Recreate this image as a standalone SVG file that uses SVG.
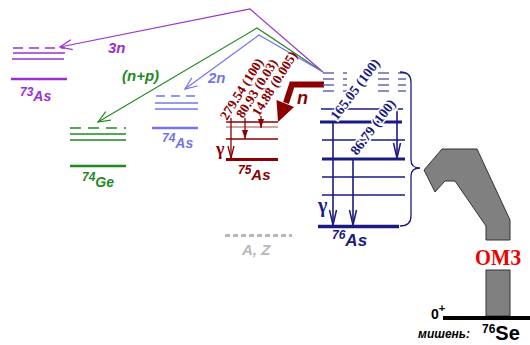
<svg xmlns="http://www.w3.org/2000/svg" width="530" height="345" viewBox="0 0 530 345">
<defs>
<style>
.sans{font-family:"Liberation Sans",Arial,sans-serif;font-weight:bold;font-style:italic}
.ser{font-family:"Liberation Serif","Times New Roman",serif;font-weight:bold}
.pu{stroke:#9b30d0;fill:none}
.gr{stroke:#1f8a1f;fill:none}
.lb{stroke:#7474f0;fill:none}
.dr{stroke:#8b0000;fill:none}
.nv{stroke:#1a1a80;fill:none}
.nvd{stroke:#6868a8;fill:none;stroke-width:1.5}
.thin{stroke-width:1.3}
.thick{stroke-width:3}
</style>
<marker id="mPu" markerUnits="userSpaceOnUse" markerWidth="16" markerHeight="12" viewBox="-1 -6 16 12" refX="12" refY="0" orient="auto"><path d="M0,-5 L12,0 L0,5" fill="none" stroke="#9b30d0" stroke-width="1.2"/></marker>
<marker id="mGr" markerUnits="userSpaceOnUse" markerWidth="16" markerHeight="12" viewBox="-1 -6 16 12" refX="12" refY="0" orient="auto"><path d="M0,-5 L12,0 L0,5" fill="none" stroke="#1f8a1f" stroke-width="1.2"/></marker>
<marker id="mLb" markerUnits="userSpaceOnUse" markerWidth="16" markerHeight="12" viewBox="-1 -6 16 12" refX="12" refY="0" orient="auto"><path d="M0,-5 L12,0 L0,5" fill="none" stroke="#7474f0" stroke-width="1.2"/></marker>
<marker id="mNv" markerUnits="userSpaceOnUse" markerWidth="18" markerHeight="10" viewBox="-1 -5 18 10" refX="15" refY="0" orient="auto"><path d="M0,-3.5 L15,0 L0,3.5" fill="none" stroke="#1a1a80" stroke-width="1.5"/></marker>
<marker id="mDrV" markerUnits="userSpaceOnUse" markerWidth="14" markerHeight="8" viewBox="-1 -4 14 8" refX="12" refY="0" orient="auto"><path d="M0,-3 L12,0 L0,3" fill="none" stroke="#8b0000" stroke-width="1.3"/></marker>
<marker id="mDrF" markerUnits="userSpaceOnUse" markerWidth="10" markerHeight="8" viewBox="0 -4 10 8" refX="9" refY="0" orient="auto"><path d="M0,-3 L9,0 L0,3 Z" fill="#8b0000"/></marker>
</defs>
<rect width="530" height="345" fill="#fff"/>

<g id="connectors">
<polyline class="pu" stroke-width="1.2" points="323,72 250,9 60,47" marker-end="url(#mPu)"/>
<polyline class="gr" stroke-width="1.2" points="323,72 257,28 98,122" marker-end="url(#mGr)"/>
<polyline class="lb" stroke-width="1.2" points="323,72 259,35 185,89" marker-end="url(#mLb)"/>
<text class="sans" x="108" y="53" font-size="15" fill="#9b30d0">3n</text>
<text class="sans" x="122" y="81" font-size="15" fill="#1f8a1f">(n+p)</text>
<text class="sans" x="208" y="83" font-size="15" fill="#7474f0">2n</text>
<g id="n-arrow">
<path d="M324,84.5 H292 L286,103" fill="none" stroke="#8b0000" stroke-width="6" stroke-linejoin="miter"/>
<polygon points="278,122 276.5,100 294,107" fill="#8b0000"/>
<text class="sans" x="297" y="104" font-size="18" fill="#8b0000">n</text>
</g>
</g>

<g id="As73">
<line class="pu" stroke-width="1.3" x1="13" y1="48" x2="65" y2="48" stroke-dasharray="10,6"/>
<line class="pu" stroke-width="1.3" x1="13" y1="53" x2="65" y2="53"/>
<line class="pu" stroke-width="1.3" x1="12" y1="59" x2="64" y2="59"/>
<line class="pu" stroke-width="2.5" x1="11" y1="79" x2="67" y2="79"/>
<text class="sans" fill="#9b30d0"><tspan x="20" y="96" font-size="12">73</tspan><tspan y="101" font-size="14">As</tspan></text>
</g>

<g id="Ge74">
<line class="gr" stroke-width="1.3" x1="70" y1="128" x2="126" y2="128" stroke-dasharray="11,7"/>
<line class="gr" stroke-width="1.3" x1="70" y1="134" x2="126" y2="134"/>
<line class="gr" stroke-width="1.3" x1="70" y1="140" x2="126" y2="140"/>
<line class="gr" stroke-width="2.5" x1="70" y1="166" x2="126" y2="166"/>
<text class="sans" fill="#1f8a1f"><tspan x="82" y="181" font-size="12">74</tspan><tspan y="187" font-size="14">Ge</tspan></text>
</g>

<g id="As74">
<line class="lb" stroke-width="1.3" x1="156" y1="96" x2="200" y2="96" stroke-dasharray="9,6"/>
<line class="lb" stroke-width="1.3" x1="155" y1="103" x2="198" y2="103"/>
<line class="lb" stroke-width="1.3" x1="155" y1="109" x2="198" y2="109"/>
<line class="lb" stroke-width="2.5" x1="152" y1="128" x2="198" y2="128"/>
<text class="sans" fill="#7474f0"><tspan x="162" y="142" font-size="12">74</tspan><tspan y="148" font-size="14">As</tspan></text>
</g>

<g id="As75">
<line class="dr" stroke-width="1.3" x1="226" y1="122" x2="278" y2="122"/>
<line stroke="#c48888" stroke-width="1.3" x1="226" y1="127" x2="278" y2="127"/>
<line class="dr" stroke-width="1.3" x1="226" y1="139" x2="278" y2="139"/>
<line class="dr" stroke-width="3" x1="226" y1="159.5" x2="278" y2="159.5"/>
<line class="dr" stroke-width="1.3" x1="231" y1="118" x2="231" y2="158" marker-end="url(#mDrV)"/>
<line class="dr" stroke-width="1.3" x1="245" y1="118" x2="245" y2="139" marker-end="url(#mDrF)"/>
<line class="dr" stroke-width="1.3" x1="261" y1="116" x2="261" y2="128" marker-end="url(#mDrF)"/>
<text class="ser" font-weight="normal" x="216" y="155" font-size="18" fill="#8b0000">γ</text>
<g class="ser" font-size="13.5" fill="#8b0000">
<text transform="translate(227,121) rotate(-58)">279.54 (100)</text>
<text transform="translate(243,119) rotate(-58)">80.93 (0.03)</text>
<text transform="translate(259,117) rotate(-58)">14.88 (0.005)</text>
</g>
<text class="sans" fill="#8b0000"><tspan x="238" y="174" font-size="12">75</tspan><tspan y="180" font-size="15">As</tspan></text>
</g>

<g id="As76">
<g class="nvd">
<path d="M323,73 h11 M343,73 h4 M378,73 h11 M398,73 h8"/>
<path d="M323,79 h11 M343,79 h4 M378,79 h11 M398,79 h8"/>
<path d="M323,85 h11 M343,85 h4 M378,85 h11 M398,85 h8"/>
<path d="M323,91 h11 M343,91 h4 M378,91 h11 M398,91 h8"/>
</g>
<line class="nv thin" x1="321" y1="109" x2="403" y2="109"/>
<line class="nv thick" x1="320" y1="122" x2="402" y2="122"/>
<line class="nv thin" x1="322" y1="140" x2="405" y2="140"/>
<line class="nv thick" x1="322" y1="159" x2="405" y2="159"/>
<line class="nv thin" x1="322" y1="177" x2="405" y2="177"/>
<line class="nv thin" x1="322" y1="195" x2="405" y2="195"/>
<line class="nv" stroke-width="3.5" x1="318" y1="226.5" x2="399" y2="226.5"/>
<line class="nv" stroke-width="1.6" x1="333" y1="122" x2="333" y2="225" marker-end="url(#mNv)"/>
<line class="nv" stroke-width="1.6" x1="353" y1="159" x2="353" y2="225" marker-end="url(#mNv)"/>
<line class="nv" stroke-width="1.6" x1="397" y1="109" x2="397" y2="158" marker-end="url(#mNv)"/>
<text class="ser" font-weight="normal" x="318" y="212" font-size="20" fill="#1a1a80">γ</text>
<g class="ser" font-size="14" fill="#1a1a80" stroke="#fff" stroke-width="3" paint-order="stroke">
<text transform="translate(337,121) rotate(-53)">165.05 (100)</text>
<text transform="translate(357,156) rotate(-53)">86.79 (100)</text>
</g>
<path class="nv" stroke-width="1.3" d="M400,72 Q411,72 411,82 V160 Q411,168 420,168 Q411,168 411,176 V216 Q411,226 400,226"/>
<text class="sans" fill="#1a1a80"><tspan x="332" y="239" font-size="12">76</tspan><tspan y="246" font-size="17">As</tspan></text>
</g>

<g id="AZ">
<line x1="225" y1="235.5" x2="292" y2="235.5" stroke="#b8b8b8" stroke-width="3" stroke-dasharray="5,3"/>
<text class="sans" x="242" y="255" font-size="15" fill="#b8b8b8">A, Z</text>
</g>

<g id="OMZ">
<polygon points="424,170 442,149 477,149 510,220 510,240 486,240 486,226 455,181 445,181 435,192" fill="#808080" stroke="#333" stroke-width="1"/>
<rect x="486" y="270" width="24" height="46" fill="#808080" stroke="#333" stroke-width="1"/>
<text class="ser" x="475" y="265" font-size="24" fill="#ee0000" textLength="46" lengthAdjust="spacingAndGlyphs">ОМЗ</text>
</g>

<g id="Se76">
<line x1="443" y1="318" x2="530" y2="318" stroke="#000" stroke-width="4"/>
<text font-family="Liberation Sans,Arial,sans-serif" font-weight="bold" fill="#000"><tspan x="431" y="319" font-size="14">0</tspan><tspan y="312" font-size="11">+</tspan></text>
<text class="sans" x="418" y="338" font-size="12" fill="#000">мишень:</text>
<text font-family="Liberation Sans,Arial,sans-serif" font-weight="bold" fill="#000"><tspan x="482" y="333" font-size="12">76</tspan><tspan y="340" font-size="20">Se</tspan></text>
</g>
</svg>
